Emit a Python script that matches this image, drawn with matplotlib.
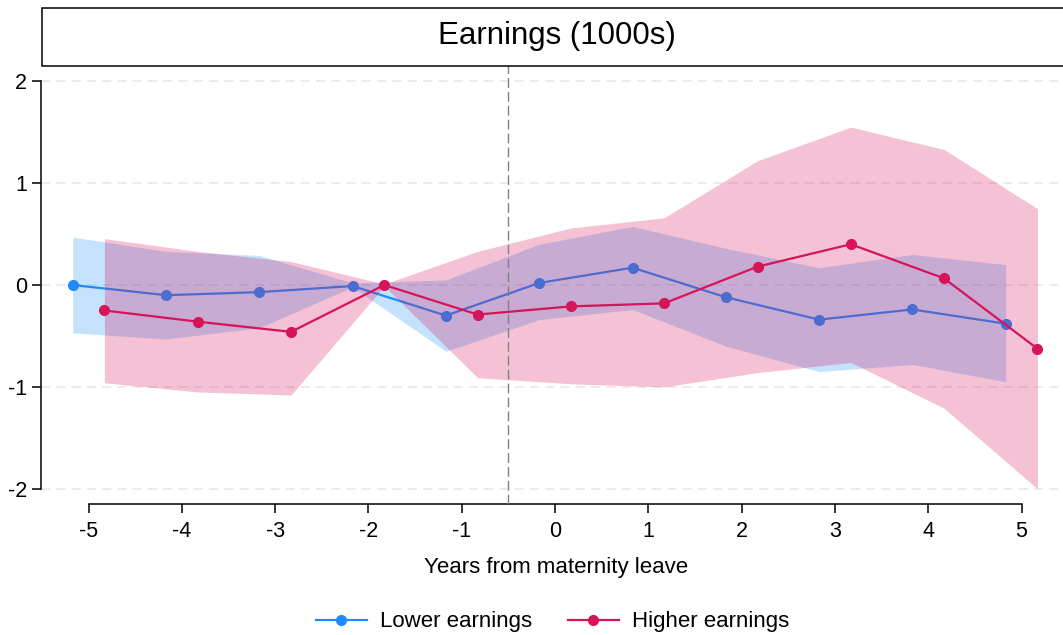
import matplotlib
matplotlib.use("Agg")
import matplotlib.pyplot as plt
from matplotlib.patches import Rectangle
from matplotlib.lines import Line2D
import numpy as np

plt.rcParams['font.family'] = ['Liberation Sans', 'DejaVu Sans']

# Event time (years from maternity leave)
years = [-5, -4, -3, -2, -1, 0, 1, 2, 3, 4, 5]

# Lower-earnings group: estimates and 95% CI
lower_est = [0.00, -0.10, -0.07, -0.01, -0.30, 0.02, 0.17, -0.12, -0.34, -0.24, -0.38]
lower_hi = [0.47, 0.33, 0.29, 0.02, 0.05, 0.40, 0.575, 0.36, 0.17, 0.30, 0.20]
lower_lo = [-0.47, -0.53, -0.42, -0.02, -0.65, -0.34, -0.24, -0.60, -0.85, -0.78, -0.95]

# Higher-earnings group: estimates and 95% CI
higher_est = [-0.25, -0.36, -0.46, 0.00, -0.29, -0.21, -0.18, 0.18, 0.40, 0.065, -0.625]
higher_hi = [0.455, 0.33, 0.23, 0.01, 0.33, 0.56, 0.66, 1.22, 1.55, 1.33, 0.75]
higher_lo = [-0.96, -1.05, -1.08, -0.01, -0.91, -0.97, -1.00, -0.86, -0.76, -1.21, -2.00]

y_ticks = [-2, -1, 0, 1, 2]
x_ticks = [-5, -4, -3, -2, -1, 0, 1, 2, 3, 4, 5]

BLUE = "#1E8CFA"
RED = "#D6145A"
W, H = 1063, 635

fig = plt.figure(figsize=(W / 100, H / 100), dpi=100)
ax = fig.add_axes([41 / W, (H - 504) / H, (1071 - 41) / W, (504 - 66) / H])

shift = 0.17
xl = np.array(years) - shift
xh = np.array(years) + shift

# Horizontal reference grid
for yv in y_ticks:
    ax.axhline(yv, color="#E6E6E6", lw=1.1, ls=(0, (6, 4)), zorder=0)

# Lower earnings: band, then line
ax.fill_between(xl, lower_lo, lower_hi, color=BLUE, alpha=0.26, lw=0, zorder=1)
ax.plot(xl, lower_est, color=BLUE, lw=1.6, marker="o", ms=7, zorder=2)

# Higher earnings: band, then line
ax.fill_between(xh, higher_lo, higher_hi, color=RED, alpha=0.26, lw=0, zorder=3)
ax.plot(xh, higher_est, color=RED, lw=1.6, marker="o", ms=7, zorder=4)

# Leave start marker
ax.axvline(-0.5, color="#808080", lw=1.0, ls=(0, (7, 3)), zorder=5)

ax.set_xlim(-5.51, 5.53)
ax.set_ylim(-2.15, 2.15)

ax.spines["top"].set_visible(False)
ax.spines["right"].set_visible(False)
ax.spines["left"].set_bounds(-2, 2)
ax.spines["bottom"].set_bounds(-5, 5)
for s in ("left", "bottom"):
    ax.spines[s].set_linewidth(1.1)

ax.set_yticks(y_ticks)
ax.set_yticklabels([str(v) for v in y_ticks])
ax.set_xticks(x_ticks)
ax.set_xticklabels([str(v) for v in x_ticks])
ax.tick_params(axis="both", direction="out", length=6.5, width=1.1, labelsize=15.5, pad=3.5)
ax.tick_params(axis="x", pad=5.5)

ax.set_xlabel("Years from maternity leave", fontsize=16, labelpad=11)

# Title box
fig.patches.append(Rectangle((42 / W, (H - 66) / H), (1120 - 42) / W, (66 - 7.5) / H,
                             transform=fig.transFigure, facecolor="white",
                             edgecolor="black", lw=1.1, clip_on=False))
fig.text(556.5 / W, 1 - 36 / H, "Earnings (1000s)", ha="center", va="center", fontsize=22.5)

handles = [
    Line2D([], [], color=BLUE, lw=1.6, marker="o", ms=7),
    Line2D([], [], color=RED, lw=1.6, marker="o", ms=7),
]
fig.legend(handles, ["Lower earnings", "Higher earnings"], loc="center",
           bbox_to_anchor=(552.5 / W, 1 - 622 / H), ncol=2, frameon=False,
           fontsize=16, handlelength=2.3, handletextpad=0.6, columnspacing=1.6,
           borderpad=0, borderaxespad=0)

fig.savefig("out.png", dpi=100, facecolor="white")
